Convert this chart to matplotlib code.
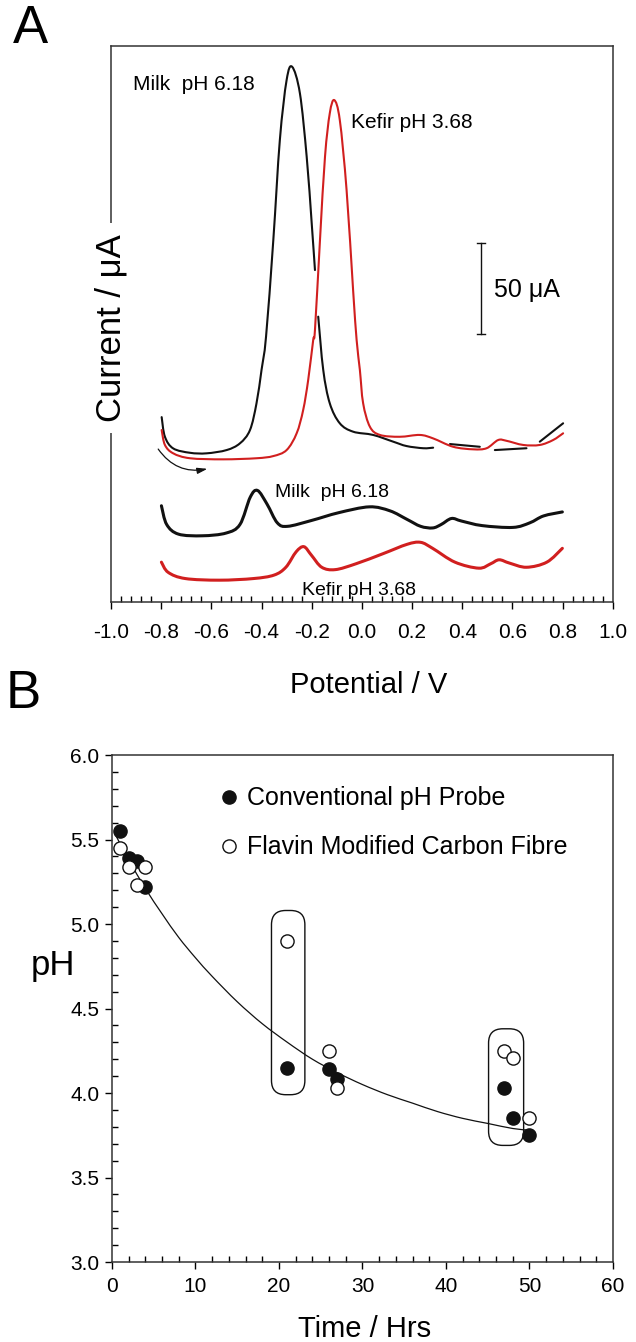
import matplotlib
matplotlib.use('Agg')
from matplotlib import pyplot as plt
from matplotlib.patches import FancyBboxPatch, PathPatch
from matplotlib.path import Path
from matplotlib.ticker import MultipleLocator, FormatStrFormatter
import numpy as np

plt.rcParams['font.family'] = ['Liberation Sans', 'DejaVu Sans']
plt.rcParams['axes.unicode_minus'] = False

# ---- panel A: voltammograms (potential / V, current / uA), nan = gap in trace
milk1_v = [-0.798, -0.785, -0.752, -0.685, -0.619, -0.539, -0.486, -0.446, -0.420, -0.400,
           -0.382, -0.353, -0.327, -0.300, -0.278, -0.247, -0.220, -0.200, -0.187, np.nan,
           -0.174, -0.154, -0.128, -0.088, -0.035, 0.045, 0.125, 0.178, 0.245, 0.284, np.nan,
           0.351, 0.470, np.nan, 0.530, 0.656, np.nan, 0.709, 0.802]
milk1_i = [101.6, 90.8, 84.4, 82.0, 81.7, 83.5, 87.2, 94.5, 109.2, 127.5,
           145.8, 198.9, 253.8, 286.8, 294.1, 279.5, 244.7, 208.1, 182.4, np.nan,
           156.8, 127.5, 109.2, 98.2, 93.6, 91.8, 88.1, 85.7, 84.5, 84.8, np.nan,
           86.8, 85.3, np.nan, 83.5, 84.5, np.nan, 88.1, 98.2]

kefir1_v = [-0.798, -0.785, -0.752, -0.685, -0.553, -0.420, -0.353, -0.300, -0.260, -0.234,
            -0.214, -0.194, -0.187, -0.167, -0.147, -0.128, -0.110, -0.088, -0.061, -0.035,
            -0.021, -0.008, 0.005, 0.032, 0.072, 0.151, 0.231, 0.284, 0.364, 0.444,
            0.497, 0.543, 0.576, 0.643, 0.709, 0.762, 0.802]
kefir1_i = [94.5, 86.3, 81.7, 79.0, 78.4, 79.0, 80.2, 83.5, 92.7, 105.5,
            122.0, 144.0, 149.5, 198.9, 244.7, 268.5, 275.8, 264.8, 226.4, 171.4,
            144.0, 127.5, 109.2, 96.3, 91.8, 90.8, 91.8, 89.9, 85.3, 83.9,
            84.5, 89.0, 88.6, 86.3, 86.3, 89.0, 92.7]

milk2_v = [-0.799, -0.778, -0.731, -0.636, -0.541, -0.486, -0.445, -0.416, -0.378, -0.337,
           -0.296, -0.201, -0.092, 0.030, 0.112, 0.180, 0.234, 0.282, 0.316, 0.357,
           0.397, 0.479, 0.602, 0.669, 0.724, 0.799]
milk2_i = [52.9, 42.6, 37.3, 36.4, 37.9, 42.6, 57.6, 61.3, 53.8, 43.5,
           41.6, 44.8, 49.1, 52.3, 50.1, 45.4, 41.6, 40.7, 42.6, 45.9,
           44.5, 42.0, 41.0, 43.5, 47.3, 49.5]

kefir2_v = [-0.799, -0.772, -0.704, -0.568, -0.432, -0.350, -0.303, -0.262, -0.231, -0.201,
            -0.160, -0.106, -0.024, 0.085, 0.180, 0.234, 0.282, 0.371, 0.466, 0.513,
            0.547, 0.588, 0.656, 0.737, 0.799]
kefir2_i = [21.9, 16.3, 12.9, 12.0, 12.9, 14.8, 19.1, 27.6, 30.4, 25.7,
            19.1, 17.8, 21.0, 26.6, 31.7, 32.8, 29.5, 21.9, 18.6, 21.0,
            23.2, 21.4, 19.1, 21.9, 29.5]

scale_bar_v = 0.474
scale_bar_i = [147.3, 197.3]   # 50 uA

# ---- panel B: pH against time
time_hrs = [1, 2, 3, 4, 21, 26, 27, 47, 48, 50]
ph_probe = [5.55, 5.39, 5.37, 5.22, 4.15, 4.14, 4.08, 4.03, 3.85, 3.75]
ph_flavin = [5.45, 5.34, 5.23, 5.34, 4.90, 4.25, 4.03, 4.25, 4.21, 3.85]

# fitted decay line
fit_t = [0.5, 2, 4, 6, 8, 10, 12, 15, 18, 21, 24, 27, 30, 33, 36, 39, 42, 45, 48, 50]
fit_ph = [5.52, 5.38, 5.21, 5.06, 4.92, 4.80, 4.69, 4.54, 4.41, 4.30, 4.20, 4.12, 4.05,
          3.99, 3.94, 3.89, 3.85, 3.82, 3.79, 3.78]

# outlined groups (t0, t1, ph0, ph1)
boxes = [(19.1, 23.1, 3.99, 5.08), (45.1, 49.3, 3.69, 4.38)]

red = '#d11f1f'
ink = '#111111'


def spline_path(xs, ys):
    # smooth (Catmull-Rom) connection through the points, like Origin's spline line
    x = np.asarray(xs, float)
    y = np.asarray(ys, float)
    verts, codes = [], []
    cuts = np.where(np.isnan(x))[0]
    for seg in np.split(np.arange(len(x)), cuts):
        seg = seg[~np.isnan(x[seg])]
        p = np.column_stack([x[seg], y[seg]])
        if len(p) < 2:
            continue
        e = np.vstack([p[0], p, p[-1]])
        verts.append(p[0])
        codes.append(Path.MOVETO)
        for i in range(len(p) - 1):
            p0, p1, p2, p3 = e[i], e[i + 1], e[i + 2], e[i + 3]
            verts += [p1 + (p2 - p0) / 6, p2 - (p3 - p1) / 6, p2]
            codes += [Path.CURVE4] * 3
    return Path(verts, codes)


def smooth_line(axis, xs, ys, **kw):
    axis.add_patch(PathPatch(spline_path(xs, ys), facecolor='none',
                             capstyle='round', joinstyle='round', **kw))


fig = plt.figure(figsize=(6.36, 13.42), dpi=100)

# ================= A =================
ax = fig.add_axes([0.1745, 0.5514, 0.789, 0.4143])
smooth_line(ax, milk1_v, milk1_i, edgecolor=ink, lw=1.5)
smooth_line(ax, kefir1_v, kefir1_i, edgecolor=red, lw=1.5)
smooth_line(ax, milk2_v, milk2_i, edgecolor=ink, lw=2.2)
smooth_line(ax, kefir2_v, kefir2_i, edgecolor=red, lw=2.2)

ax.plot([scale_bar_v, scale_bar_v], scale_bar_i, color=ink, lw=1.0)
ax.plot([scale_bar_v - 0.016, scale_bar_v + 0.016], [scale_bar_i[0]] * 2, color=ink, lw=1.0)
ax.plot([scale_bar_v - 0.016, scale_bar_v + 0.016], [scale_bar_i[1]] * 2, color=ink, lw=1.0)
ax.text(0.526, 171.4, '50 μA', fontsize=18, ha='left', va='center')

ax.annotate('', xy=(-0.605, 73.5), xytext=(-0.818, 85.3),
            arrowprops=dict(arrowstyle='-|>,head_length=0.6,head_width=0.18',
                            connectionstyle='arc3,rad=0.35', color=ink, lw=0.9))

ax.text(-0.912, 284.1, 'Milk  pH 6.18', fontsize=15, ha='left', va='center')
ax.text(-0.044, 263.7, 'Kefir pH 3.68', fontsize=15, ha='left', va='center')
ax.text(-0.347, 60.4, 'Milk  pH 6.18', fontsize=14, ha='left', va='center')
ax.text(-0.239, 6.6, 'Kefir pH 3.68', fontsize=14, ha='left', va='center')

ax.set_xlim(-1.0, 1.0)
ax.set_ylim(0, 305.5)
ax.xaxis.set_major_locator(MultipleLocator(0.2))
ax.xaxis.set_minor_locator(MultipleLocator(0.04))
ax.xaxis.set_major_formatter(FormatStrFormatter('%.1f'))
ax.tick_params(axis='x', which='major', direction='out', length=5, width=1.0,
               labelsize=15, pad=10, top=False)
ax.tick_params(axis='x', which='minor', direction='in', length=4, width=1.0, top=False)
ax.tick_params(axis='y', which='both', left=False, labelleft=False)
for s in ax.spines.values():
    s.set_linewidth(1.1)
    s.set_color('#333333')

ax.text(0.0, 0.492, 'Current / μA', transform=ax.transAxes, rotation=90, fontsize=25,
        ha='center', va='center', zorder=10, clip_on=False,
        bbox=dict(facecolor='white', edgecolor='none', pad=8))
fig.text(290 / 636, 1 - 693 / 1342, 'Potential / V', fontsize=21, ha='left', va='baseline')

# ================= B =================
ax2 = fig.add_axes([0.1761, 0.0596, 0.7877, 0.3778])
smooth_line(ax2, fit_t, fit_ph, edgecolor=ink, lw=0.9)
for t0, t1, p0, p1 in boxes:
    ax2.add_patch(FancyBboxPatch((t0, p0), t1 - t0, p1 - p0,
                                 boxstyle='round,pad=0,rounding_size=1.7',
                                 mutation_aspect=8.35 / 169,
                                 facecolor='none', edgecolor=ink, lw=1.0))
ax2.plot(time_hrs, ph_probe, 'o', color=ink, markersize=9.5, ls='none',
         label='Conventional pH Probe', zorder=3)
ax2.plot(time_hrs, ph_flavin, 'o', markerfacecolor='white', markeredgecolor=ink,
         markeredgewidth=1.0, markersize=9.5, ls='none',
         label='Flavin Modified Carbon Fibre', zorder=4)

ax2.legend(loc='upper left', bbox_to_anchor=(0.2176, 0.938), frameon=False,
           fontsize=18, handlelength=0.6, handletextpad=0.45, borderpad=0,
           borderaxespad=0, labelspacing=1.0, markerscale=1.0)

ax2.set_xlim(0, 60)
ax2.set_ylim(3.0, 6.0)
ax2.xaxis.set_major_locator(MultipleLocator(10))
ax2.xaxis.set_minor_locator(MultipleLocator(2))
ax2.yaxis.set_major_locator(MultipleLocator(0.5))
ax2.yaxis.set_minor_locator(MultipleLocator(0.1))
ax2.yaxis.set_major_formatter(FormatStrFormatter('%.1f'))
ax2.tick_params(which='major', direction='out', length=5, width=1.0, labelsize=15,
                top=False, right=False)
ax2.tick_params(axis='x', which='major', pad=6)
ax2.tick_params(axis='y', which='major', pad=4)
ax2.tick_params(which='minor', direction='in', length=4, width=1.0, top=False, right=False)
for s in ax2.spines.values():
    s.set_linewidth(1.1)
    s.set_color('#333333')

fig.text(53 / 636, 1 - 965 / 1342, 'pH', fontsize=25, ha='center', va='center')
fig.text(298 / 636, 1 - 1337 / 1342, 'Time / Hrs', fontsize=21, ha='left', va='baseline')

fig.text(30 / 636, 1 - 29 / 1342, 'A', fontsize=38, ha='center', va='center')
fig.text(23 / 636, 1 - 694 / 1342, 'B', fontsize=38, ha='center', va='center')

fig.savefig('out.png', dpi=100)
